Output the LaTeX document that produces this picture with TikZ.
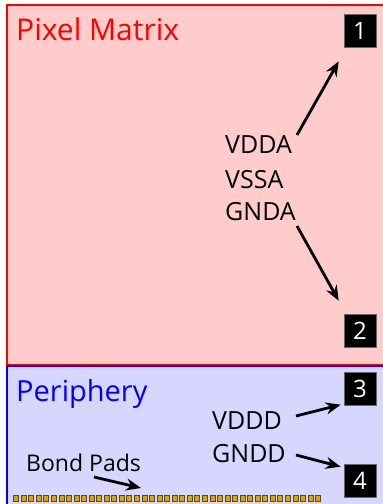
\documentclass[tikz,border=0pt]{standalone}
\usepackage{fontspec}
\setmainfont{Open Sans}
\usetikzlibrary{arrows.meta}
\definecolor{pinkfill}{HTML}{FFCCCC}
\definecolor{bluefill}{HTML}{D6D6FF}
\definecolor{padfill}{HTML}{D4A800}
\definecolor{paddraw}{HTML}{5A4A10}
\tikzset{
  numbox/.style={fill=black, draw=black!60, line width=0.6pt, text=white, minimum width=32pt, minimum height=33pt, inner sep=0pt, font=\fontsize{24}{24}\selectfont},
  lbl/.style={anchor=base west, inner sep=0pt, font=\fontsize{25}{25}\selectfont},
  arr/.style={line width=2.8pt, -{Stealth[length=15pt, width=12pt, inset=5pt]}},
  pad/.style={fill=padfill, draw=paddraw, line width=0.6pt}
}
\begin{document}
\begin{tikzpicture}[x=1pt, y=-1pt]
\useasboundingbox (0,0) rectangle (383,504);
\clip (0,0) rectangle (383,504);
\fill[white] (0,0) rectangle (383,504);
\draw[red, line width=2pt, fill=pinkfill] (7,5) rectangle (395,365);
\draw[blue, line width=2pt, fill=bluefill] (7,366) rectangle (395,520);
\node[anchor=base west, inner sep=0pt, text=red, font=\fontsize{30}{30}\selectfont] (pm) at (16,40) {Pixel Matrix};
\node[anchor=base west, inner sep=0pt, text=blue, font=\fontsize{29}{29}\selectfont] (per) at (16,401) {Periphery};
\node[numbox] (n1) at (360,30.5) {1};
\node[numbox] (n2) at (360,330.5) {2};
\node[numbox] (n3) at (360,388.5) {3};
\node[numbox] (n4) at (360,480.5) {4};
\node[lbl] (vdda) at (225,153) {VDDA};
\node[lbl] (vssa) at (225,188) {VSSA};
\node[lbl] (gnda) at (225,220) {GNDA};
\node[lbl] (vddd) at (212,429) {VDDD};
\node[lbl] (gndd) at (212,462) {GNDD};
\node[lbl, font=\fontsize{23}{23}\selectfont] (bp) at (26,471) {Bond Pads};
\draw[arr] ([shift={(72,-18)}]vdda.base west) -- ([shift={(-5,14)}]n1.south west);
\draw[arr] ([shift={(72,6)}]gnda.base west) -- ([shift={(-5,-13)}]n2.north west);
\draw[arr] ([shift={(84,-13)}]vddd.base west) -- ([shift={(-3,33)}]n3.north west);
\draw[arr] ([shift={(84,-7)}]gndd.base west) -- ([shift={(-3,3)}]n4.north west);
\draw[arr] ([shift={(68,6)}]bp.base west) -- ([shift={(115,17)}]bp.base west);
\foreach \i in {0,...,40} {
  \draw[pad] ({13.5+\i*7.55},495.5) rectangle ++(5,6);
}
\end{tikzpicture}
\end{document}
